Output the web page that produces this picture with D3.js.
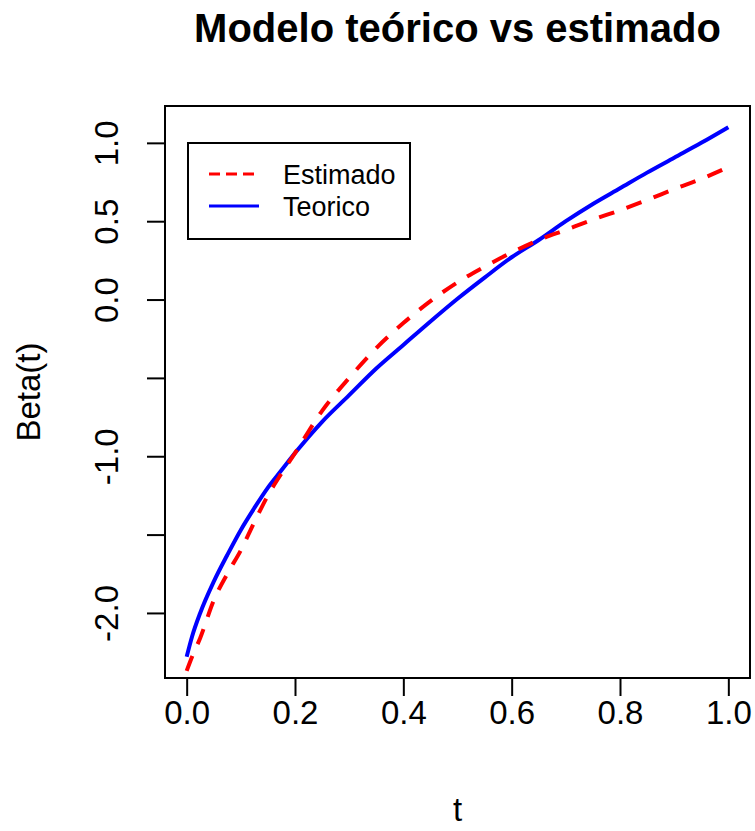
<!DOCTYPE html>
<html>
<head>
<meta charset="utf-8">
<script src="https://cdn.jsdelivr.net/npm/d3@7"></script>
<style>
    html, body { margin: 0; padding: 0; background: #ffffff; }
    text { font-family: "Liberation Sans", Arial, sans-serif; fill: #000; }
</style>
</head>
<body>
<div id="wrapper"></div>
<script>
// Data
const tValues = [0, 0.01, 0.025, 0.05, 0.075, 0.1, 0.125, 0.15, 0.175, 0.2, 0.25, 0.3, 0.35, 0.4,
    0.45, 0.5, 0.55, 0.6, 0.65, 0.7, 0.75, 0.8, 0.85, 0.9, 0.95, 1.0];
const teorico = [-2.28, -2.15, -2.0, -1.80, -1.63, -1.47, -1.33, -1.20, -1.09, -0.98, -0.78, -0.61, -0.44, -0.29,
    -0.14, 0.005, 0.14, 0.27, 0.38, 0.50, 0.61, 0.71, 0.81, 0.905, 1.00, 1.10];
const estimado = [-2.37, -2.28, -2.16, -1.92, -1.75, -1.60, -1.42, -1.25, -1.11, -0.98, -0.71, -0.50, -0.31, -0.15,
    -0.01, 0.11, 0.21, 0.30, 0.38, 0.445, 0.51, 0.57, 0.635, 0.705, 0.77, 0.845];
const xTicks = [0, 0.2, 0.4, 0.6, 0.8, 1.0];
const xTickLabels = ["0.0", "0.2", "0.4", "0.6", "0.8", "1.0"];
const yTicks = [-2.0, -1.5, -1.0, -0.5, 0.0, 0.5, 1.0];
const yTickLabels = ["-2.0", "", "-1.0", "", "0.0", "0.5", "1.0"];
const legendLabels = ["Estimado", "Teorico"];

function drawChart() {
    const dataset = tValues.map((t, i) => ({ t: t, teo: teorico[i], est: estimado[i] }));
    const xAccessor = d => d.t;

    let dimensions = {
        width: 755,
        height: 831,
        margin: { top: 106, right: 5, bottom: 153, left: 165 },
    };
    dimensions.boundedWidth = dimensions.width - dimensions.margin.left - dimensions.margin.right;
    dimensions.boundedHeight = dimensions.height - dimensions.margin.top - dimensions.margin.bottom;

    const wrapper = d3.select("#wrapper")
        .append("svg")
        .attr("width", dimensions.width)
        .attr("height", dimensions.height)
        .style("background", "#fff");

    const bounds = wrapper.append("g")
        .attr("transform", `translate(${dimensions.margin.left}, ${dimensions.margin.top})`);

    // scales, R style 4% padding
    const xExt = d3.extent(dataset, xAccessor);
    const xPad = (xExt[1] - xExt[0]) * 0.04;
    const xScale = d3.scaleLinear()
        .domain([xExt[0] - xPad, xExt[1] + xPad])
        .range([0, dimensions.boundedWidth]);

    const yExt = d3.extent(teorico);
    const yPad = (yExt[1] - yExt[0]) * 0.04;
    const yScale = d3.scaleLinear()
        .domain([yExt[0] - yPad, yExt[1] + yPad])
        .range([dimensions.boundedHeight, 0]);

    // lines
    const teoLine = d3.line()
        .x(d => xScale(xAccessor(d)))
        .y(d => yScale(d.teo))
        .curve(d3.curveMonotoneX);
    const estLine = d3.line()
        .x(d => xScale(xAccessor(d)))
        .y(d => yScale(d.est))
        .curve(d3.curveMonotoneX);

    bounds.append("path")
        .attr("d", teoLine(dataset))
        .attr("fill", "none")
        .attr("stroke", "#0000ff")
        .attr("stroke-width", 4);

    bounds.append("path")
        .attr("d", estLine(dataset))
        .attr("fill", "none")
        .attr("stroke", "#ff0000")
        .attr("stroke-width", 4)
        .attr("stroke-dasharray", "16,13");

    // box
    bounds.append("rect")
        .attr("width", dimensions.boundedWidth)
        .attr("height", dimensions.boundedHeight)
        .attr("fill", "none")
        .attr("stroke", "#000")
        .attr("stroke-width", 2);

    // x axis
    const xAxisGenerator = d3.axisBottom(xScale)
        .tickValues(xTicks)
        .tickSize(18)
        .tickSizeOuter(0)
        .tickFormat((d, i) => xTickLabels[i]);

    const xAxis = bounds.append("g")
        .attr("transform", `translate(0, ${dimensions.boundedHeight})`)
        .call(xAxisGenerator);
    xAxis.select(".domain").remove();
    xAxis.selectAll(".tick line").attr("stroke", "#000").attr("stroke-width", 2);
    xAxis.selectAll(".tick text")
        .attr("y", 46)
        .attr("dy", 0)
        .style("font-size", "33px")
        .attr("fill", "#000");

    // y axis
    const yAxisGenerator = d3.axisLeft(yScale)
        .tickValues(yTicks)
        .tickSize(18)
        .tickSizeOuter(0)
        .tickFormat((d, i) => yTickLabels[i]);

    const yAxis = bounds.append("g").call(yAxisGenerator);
    yAxis.select(".domain").remove();
    yAxis.selectAll(".tick line").attr("stroke", "#000").attr("stroke-width", 2);
    yAxis.selectAll(".tick text")
        .attr("transform", "rotate(-90)")
        .attr("x", 0)
        .attr("y", -47)
        .attr("dy", 0)
        .style("text-anchor", "middle")
        .style("font-size", "33px")
        .attr("fill", "#000");

    // axis titles
    wrapper.append("text")
        .attr("x", dimensions.margin.left + dimensions.boundedWidth / 2)
        .attr("y", 821)
        .style("text-anchor", "middle")
        .style("font-size", "33px")
        .text("t");

    wrapper.append("text")
        .attr("transform", `translate(40, ${dimensions.margin.top + dimensions.boundedHeight / 2}) rotate(-90)`)
        .style("text-anchor", "middle")
        .style("font-size", "33px")
        .text("Beta(t)");

    // title
    wrapper.append("text")
        .attr("x", dimensions.margin.left + dimensions.boundedWidth / 2)
        .attr("y", 42)
        .style("text-anchor", "middle")
        .style("font-size", "40px")
        .style("font-weight", "bold")
        .text("Modelo teórico vs estimado");

    // legend
    const legend = bounds.append("g")
        .attr("transform", "translate(23, 37)");

    legend.append("rect")
        .attr("width", 222)
        .attr("height", 96)
        .attr("fill", "#fff")
        .attr("stroke", "#000")
        .attr("stroke-width", 2);

    const legendData = [
        { label: legendLabels[0], color: "#ff0000", dash: "11,6" },
        { label: legendLabels[1], color: "#0000ff", dash: null }
    ];

    const legendItems = legend.selectAll(".legend-item")
        .data(legendData)
        .enter().append("g")
        .attr("class", "legend-item")
        .attr("transform", (d, i) => `translate(0, ${31 + i * 32})`);

    legendItems.append("line")
        .attr("x1", 21)
        .attr("x2", 71)
        .attr("y1", 0)
        .attr("y2", 0)
        .attr("stroke", d => d.color)
        .attr("stroke-width", 3)
        .attr("stroke-dasharray", d => d.dash);

    legendItems.append("text")
        .attr("x", 95)
        .attr("y", 10)
        .style("font-size", "27px")
        .text(d => d.label);
}

drawChart();
</script>
</body>
</html>
